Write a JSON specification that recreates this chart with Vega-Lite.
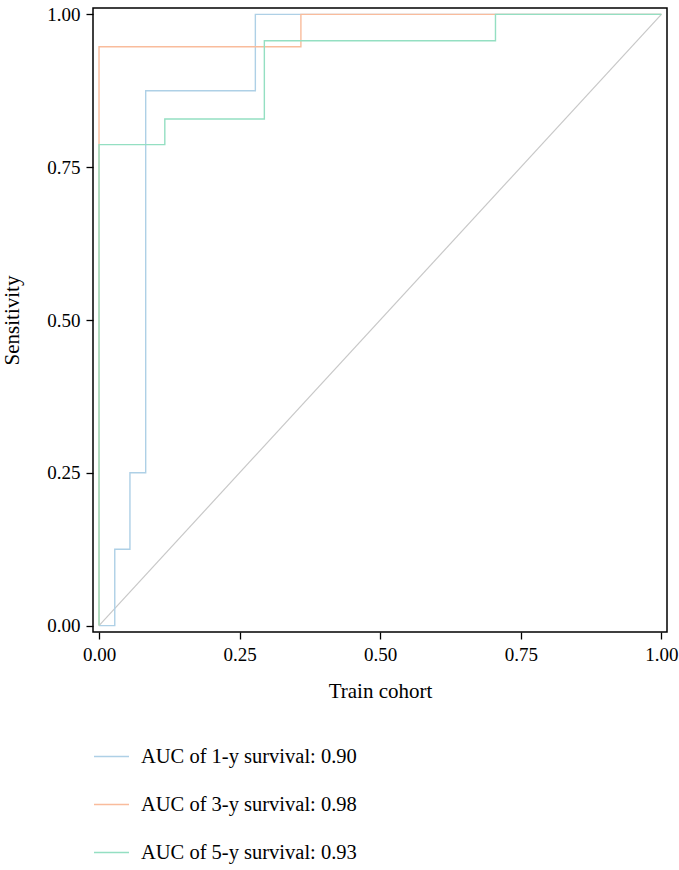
{
  "$schema": "https://vega.github.io/schema/vega-lite/v6.json",
  "width": 574,
  "height": 624,
  "autosize": "none",
  "padding": {"left": 93, "top": 8, "right": 12, "bottom": 238},
  "background": "white",
  "config": {
    "font": "Liberation Serif",
    "view": {"stroke": "black", "strokeWidth": 1.5},
    "axis": {
      "labelFont": "Liberation Serif",
      "titleFont": "Liberation Serif",
      "labelFontSize": 19,
      "titleFontSize": 21,
      "titleFontWeight": "normal",
      "labelColor": "black",
      "titleColor": "black",
      "grid": false,
      "domain": false,
      "tickColor": "black",
      "tickWidth": 1.3,
      "tickSize": 7,
      "labelPadding": 6
    },
    "legend": {
      "labelFont": "Liberation Serif",
      "labelFontSize": 20.5,
      "labelColor": "black",
      "labelLimit": 0
    }
  },
  "datasets": {
    "roc": [
      {"series": "AUC of 1-y survival: 0.90", "ord": 0, "fpr": 0, "tpr": 0},
      {"series": "AUC of 1-y survival: 0.90", "ord": 1, "fpr": 0.028, "tpr": 0},
      {"series": "AUC of 1-y survival: 0.90", "ord": 2, "fpr": 0.028, "tpr": 0.125},
      {"series": "AUC of 1-y survival: 0.90", "ord": 3, "fpr": 0.055, "tpr": 0.125},
      {"series": "AUC of 1-y survival: 0.90", "ord": 4, "fpr": 0.055, "tpr": 0.25},
      {"series": "AUC of 1-y survival: 0.90", "ord": 5, "fpr": 0.083, "tpr": 0.25},
      {"series": "AUC of 1-y survival: 0.90", "ord": 6, "fpr": 0.083, "tpr": 0.875},
      {"series": "AUC of 1-y survival: 0.90", "ord": 7, "fpr": 0.278, "tpr": 0.875},
      {"series": "AUC of 1-y survival: 0.90", "ord": 8, "fpr": 0.278, "tpr": 1},
      {"series": "AUC of 1-y survival: 0.90", "ord": 9, "fpr": 1, "tpr": 1},
      {"series": "AUC of 3-y survival: 0.98", "ord": 0, "fpr": 0, "tpr": 0},
      {"series": "AUC of 3-y survival: 0.98", "ord": 1, "fpr": 0, "tpr": 0.947},
      {"series": "AUC of 3-y survival: 0.98", "ord": 2, "fpr": 0.359, "tpr": 0.947},
      {"series": "AUC of 3-y survival: 0.98", "ord": 3, "fpr": 0.359, "tpr": 1},
      {"series": "AUC of 3-y survival: 0.98", "ord": 4, "fpr": 1, "tpr": 1},
      {"series": "AUC of 5-y survival: 0.93", "ord": 0, "fpr": 0, "tpr": 0},
      {"series": "AUC of 5-y survival: 0.93", "ord": 1, "fpr": 0, "tpr": 0.787},
      {"series": "AUC of 5-y survival: 0.93", "ord": 2, "fpr": 0.117, "tpr": 0.787},
      {"series": "AUC of 5-y survival: 0.93", "ord": 3, "fpr": 0.117, "tpr": 0.829},
      {"series": "AUC of 5-y survival: 0.93", "ord": 4, "fpr": 0.294, "tpr": 0.829},
      {"series": "AUC of 5-y survival: 0.93", "ord": 5, "fpr": 0.294, "tpr": 0.957},
      {"series": "AUC of 5-y survival: 0.93", "ord": 6, "fpr": 0.705, "tpr": 0.957},
      {"series": "AUC of 5-y survival: 0.93", "ord": 7, "fpr": 0.705, "tpr": 1},
      {"series": "AUC of 5-y survival: 0.93", "ord": 8, "fpr": 1, "tpr": 1}
    ],
    "diag": [
      {"fpr": 0, "tpr": 0},
      {"fpr": 1, "tpr": 1}
    ]
  },
  "layer": [
    {
      "data": {"name": "diag"},
      "mark": {"type": "line", "color": "#c8c8c8", "strokeWidth": 1.2, "clip": true},
      "encoding": {
        "x": {"field": "fpr", "type": "quantitative", "scale": {"domain": [-0.0107, 1.01], "nice": false, "zero": false}},
        "y": {"field": "tpr", "type": "quantitative", "scale": {"domain": [-0.0105, 1.0105], "nice": false, "zero": false}}
      }
    },
    {
      "data": {"name": "roc"},
      "mark": {"type": "line", "strokeWidth": 1.4, "clip": true},
      "encoding": {
        "x": {
          "field": "fpr", "type": "quantitative",
          "scale": {"domain": [-0.0107, 1.01], "nice": false, "zero": false},
          "axis": {"values": [0, 0.25, 0.5, 0.75, 1], "format": ".2f", "title": "Train cohort", "titlePadding": 16}
        },
        "y": {
          "field": "tpr", "type": "quantitative",
          "scale": {"domain": [-0.0105, 1.0105], "nice": false, "zero": false},
          "axis": {"values": [0, 0.25, 0.5, 0.75, 1], "format": ".2f", "title": "Sensitivity", "titlePadding": 24}
        },
        "color": {
          "field": "series", "type": "nominal",
          "scale": {
            "domain": ["AUC of 1-y survival: 0.90", "AUC of 3-y survival: 0.98", "AUC of 5-y survival: 0.93"],
            "range": ["#aed0e6", "#f9bc9c", "#94dfc2"]
          },
          "legend": {
            "title": null,
            "orient": "none",
            "legendX": 0,
            "legendY": 730,
            "symbolType": "stroke",
            "symbolSize": 1225,
            "symbolStrokeWidth": 1.3,
            "labelOffset": 11,
            "rowPadding": 19
          }
        },
        "order": {"field": "ord", "type": "quantitative"}
      }
    }
  ]
}
